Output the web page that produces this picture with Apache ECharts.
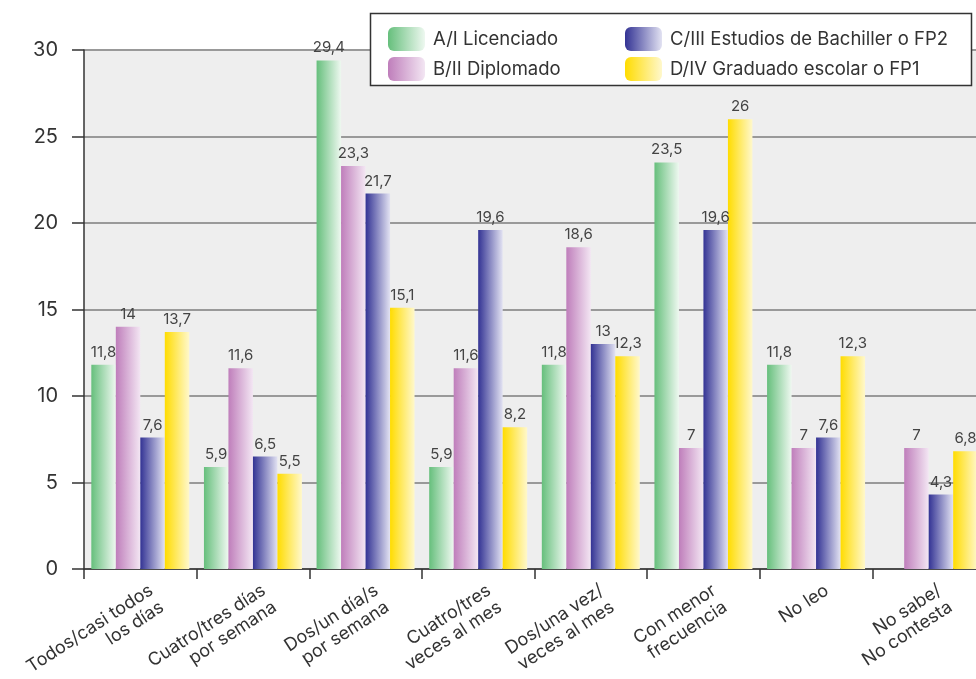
<!DOCTYPE html>
<html>
<head>
<meta charset="utf-8">
<script src="https://cdn.jsdelivr.net/npm/echarts@6/dist/echarts.min.js"></script>
<style>
html,body{margin:0;padding:0;background:#fff;}
#chart{width:976px;height:679px;}
</style>
</head>
<body>
<div id="chart"></div>
<script>
var categories = ['Todos/casi todos\nlos días','Cuatro/tres días\npor semana','Dos/un día/s\npor semana','Cuatro/tres\nveces al mes','Dos/una vez/\nveces al mes','Con menor\nfrecuencia','No leo','No sabe/\nNo contesta'];
var seriesNames = ['A/I Licenciado','B/II Diplomado','C/III Estudios de Bachiller o FP2','D/IV Graduado escolar o FP1'];
var valuesA = [11.8, 5.9, 29.4, 5.9, 11.8, 23.5, 11.8, 0];
var valuesB = [14, 11.6, 23.3, 11.6, 18.6, 7, 7, 7];
var valuesC = [7.6, 6.5, 21.7, 19.6, 13, 19.6, 7.6, 4.3];
var valuesD = [13.7, 5.5, 15.1, 8.2, 12.3, 26, 12.3, 6.8];
var yTicks = [0, 5, 10, 15, 20, 25, 30];

var FONT = 'Inter, "Noto Sans", sans-serif';
function grad(c1, c2) {
  return new echarts.graphic.LinearGradient(0, 0, 1, 0, [
    {offset: 0, color: c1}, {offset: 1, color: c2}
  ]);
}
var colors = [
  grad('#66bf7c', '#eef8f0'),
  grad('#bf7ebb', '#f3e6f3'),
  grad('#333394', '#e2e2f2'),
  grad('#ffdc00', '#fff8cc')
];
var allValues = [valuesA, valuesB, valuesC, valuesD];

var series = allValues.map(function (vals, i) {
  return {
    name: seriesNames[i],
    type: 'bar',
    data: vals,
    barGap: '0%',
    barCategoryGap: '13%',
    itemStyle: {color: colors[i]},
    label: {
      show: true,
      position: 'top',
      distance: 5,
      color: '#444',
      fontFamily: FONT,
      fontSize: 15,
      formatter: function (p) {
        return p.value === 0 ? '' : String(p.value).replace('.', ',');
      }
    }
  };
});

var chart = echarts.init(document.getElementById('chart'));
chart.setOption({
  animation: false,
  backgroundColor: '#fff',
  textStyle: {fontFamily: FONT},
  grid: {
    left: 84, top: 50, width: 901, height: 519,
    outerBoundsMode: 'none', containLabel: false,
    show: true, backgroundColor: '#eeeeee', borderWidth: 0
  },
  graphic: [{
    type: 'rect', z: 100,
    shape: {x: 370.5, y: 13.5, width: 601, height: 72},
    style: {fill: '#fff', stroke: '#333', lineWidth: 1.5}
  }],
  legend: [{
    z: 101, orient: 'vertical', left: 383, top: 22,
    itemWidth: 37, itemHeight: 24, itemGap: 6,
    data: [seriesNames[0], seriesNames[1]],
    textStyle: {fontSize: 18.5, color: '#333', fontFamily: FONT, lineHeight: 24, padding: [0, 0, 0, 3]}
  }, {
    z: 101, orient: 'vertical', left: 620, top: 22,
    itemWidth: 37, itemHeight: 24, itemGap: 6,
    data: [seriesNames[2], seriesNames[3]],
    textStyle: {fontSize: 18.5, color: '#333', fontFamily: FONT, lineHeight: 24, padding: [0, 0, 0, 3]}
  }],
  xAxis: {
    type: 'category',
    data: categories,
    axisLine: {lineStyle: {color: '#333', width: 1.5}},
    axisTick: {show: true, length: 10, lineStyle: {color: '#333', width: 1.5}},
    axisLabel: {
      rotate: 33, fontSize: 18, color: '#333', fontFamily: FONT,
      lineHeight: 20, margin: 3, interval: 0,
      align: 'right', verticalAlign: 'top', padding: [10, 0, 0, 0]
    }
  },
  yAxis: {
    type: 'value',
    min: yTicks[0], max: yTicks[yTicks.length - 1], interval: 5,
    axisLine: {show: true, lineStyle: {color: '#333', width: 1.5}},
    axisTick: {show: true, length: 12, lineStyle: {color: '#333', width: 1.5}},
    axisLabel: {fontSize: 20, color: '#333', fontFamily: FONT, margin: 26},
    splitLine: {show: true, lineStyle: {color: '#999', width: 2}}
  },
  series: series
});
</script>
</body>
</html>
